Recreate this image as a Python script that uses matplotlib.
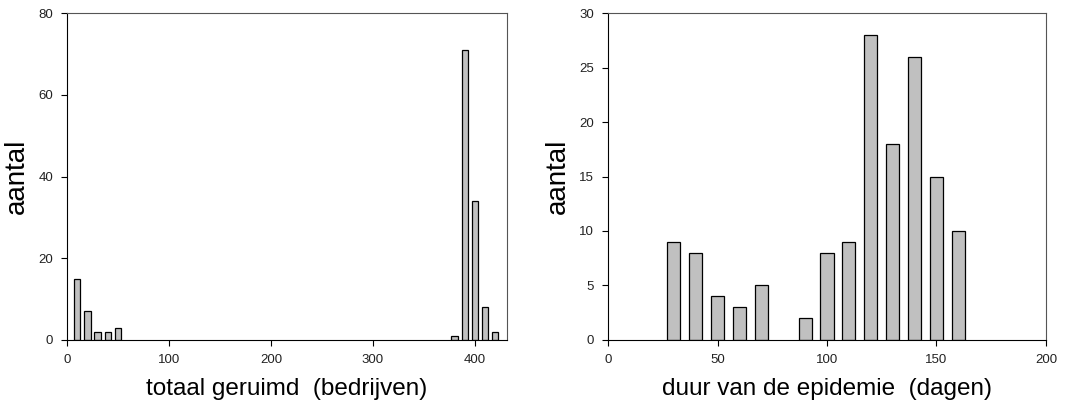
import matplotlib.pyplot as plt

plt.rcParams['font.family'] = ['Liberation Sans', 'DejaVu Sans']

# left panel: total culled farms
culled_x = [10, 20, 30, 40, 50, 380, 390, 400, 410, 420]
culled_n = [15, 7, 2, 2, 3, 1, 71, 34, 8, 2]

# right panel: duration of the epidemic (days)
duration_x = [30, 40, 50, 60, 70, 90, 100, 110, 120, 130, 140, 150, 160]
duration_n = [9, 8, 4, 3, 5, 2, 8, 9, 28, 18, 26, 15, 10]


def style_axes(ax, xlim, ylim, xticks, yticks, xlabel):
    ax.set_xlim(*xlim)
    ax.set_ylim(*ylim)
    ax.set_xticks(xticks)
    ax.set_yticks(yticks)
    ax.tick_params(direction='out', length=4, width=0.8, labelsize=9.5, pad=6,
                   labelcolor='#222222')
    for side in ['top', 'right']:
        ax.spines[side].set_color('#555555')
    for side in ['left', 'bottom']:
        ax.spines[side].set_color('black')
    ax.set_xlabel(xlabel, fontsize=17.5, labelpad=9)
    ax.set_ylabel('aantal', fontsize=20, labelpad=6)


fig = plt.figure(figsize=(10.8, 4.12), dpi=100)

ax1 = fig.add_axes([0.062, 0.175, 0.407, 0.793])
ax1.bar(culled_x, culled_n, width=6.2, color='#c0c0c0', edgecolor='black', linewidth=0.9)
style_axes(ax1, (0, 431), (0, 80), [0, 100, 200, 300, 400], [0, 20, 40, 60, 80],
           'totaal geruimd  (bedrijven)')

ax2 = fig.add_axes([0.563, 0.175, 0.4055, 0.793])
ax2.bar(duration_x, duration_n, width=6, color='#c0c0c0', edgecolor='black', linewidth=0.9)
style_axes(ax2, (0, 200), (0, 30), [0, 50, 100, 150, 200], [0, 5, 10, 15, 20, 25, 30],
           'duur van de epidemie  (dagen)')

fig.savefig('out.png', dpi=100)
